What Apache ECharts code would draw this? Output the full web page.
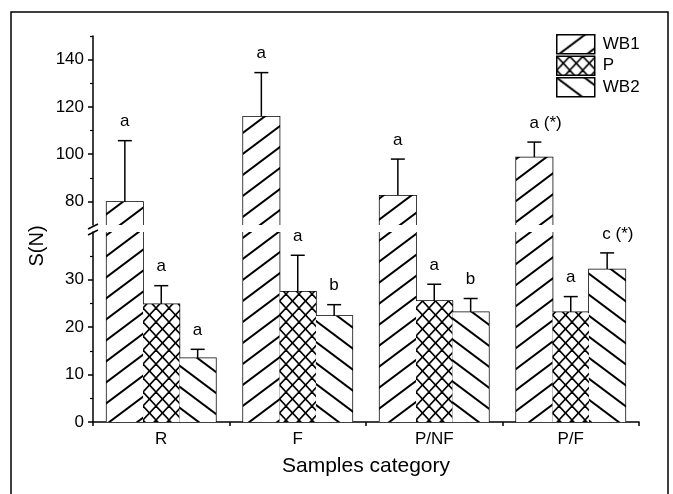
<!DOCTYPE html>
<html>
<head>
<meta charset="utf-8">
<script src="https://cdn.jsdelivr.net/npm/echarts@6/dist/echarts.min.js"></script>
<style>
  html, body { margin: 0; padding: 0; background: #fff; }
  #main { width: 673px; height: 494px; }
</style>
</head>
<body>
<div id="main"></div>
<script>
// data
var categories = ['R', 'F', 'P/NF', 'P/F'];
var seriesNames = ['WB1', 'P', 'WB2'];
var wb1 = [79.7, 115.8, 82.4, 98.6];
var wb1Err = [26.0, 18.7, 15.5, 6.5];
var pVals = [24.8, 27.4, 25.5, 23.1];
var pErr = [3.9, 7.7, 3.5, 3.3];
var wb2 = [13.4, 22.3, 23.1, 32.1];
var wb2Err = [1.9, 2.4, 2.9, 3.5];
var wb1Labels = ['a', 'a', 'a', 'a (*)'];
var pLabels = ['a', 'a', 'a', 'a'];
var wb2Labels = ['a', 'b', 'b', 'c (*)'];
var upperTicks = [80, 100, 120, 140];
var upperMinor = [90, 110, 130, 150];
var lowerTicks = [0, 10, 20, 30];
var lowerMinor = [5, 15, 25, 35];

var FONT = '"Liberation Sans", Arial, sans-serif';

// hatch fill built on a small canvas tile
function hatch(w, h, fwd, back, lw) {
    var c = document.createElement('canvas');
    c.width = w;
    c.height = h;
    var g = c.getContext('2d');
    g.fillStyle = '#fff';
    g.fillRect(0, 0, w, h);
    g.strokeStyle = '#000';
    g.lineWidth = lw;
    for (var k = -1; k <= 1; k++) {
        if (fwd) {
            g.beginPath();
            g.moveTo(-w, 2 * h + k * h);
            g.lineTo(2 * w, -h + k * h);
            g.stroke();
        }
        if (back) {
            g.beginPath();
            g.moveTo(-w, -h + k * h);
            g.lineTo(2 * w, 2 * h + k * h);
            g.stroke();
        }
    }
    return { image: c, repeat: 'repeat' };
}

var fills = [
    hatch(28, 21, true, false, 2),
    hatch(13, 14, true, true, 1.6),
    hatch(28, 21, false, true, 2)
];

function barSeries(idx, values, grid) {
    return {
        name: seriesNames[idx],
        type: 'bar',
        xAxisIndex: grid,
        yAxisIndex: grid * 2,
        data: values,
        barGap: '0%',
        barCategoryGap: '20%',
        clip: true,
        itemStyle: { color: fills[idx], borderWidth: 0 },
        emphasis: { disabled: true }
    };
}

var allBars = [
    { v: wb1, e: wb1Err, t: wb1Labels },
    { v: pVals, e: pErr, t: pLabels },
    { v: wb2, e: wb2Err, t: wb2Labels }
];

function records() {
    var recs = [];
    allBars.forEach(function (d, s) {
        for (var i = 0; i < categories.length; i++) {
            recs.push({ i: i, s: s, v: d.v[i], e: d.e[i], t: d.t[i] });
        }
    });
    return recs;
}

// outlines (open where the axis breaks), error bars and letters
function overlaySeries(grid, lo, hi) {
    var recs = records();
    return {
        type: 'custom',
        xAxisIndex: grid,
        yAxisIndex: grid * 2,
        silent: true,
        clip: false,
        data: recs.map(function (r) { return [r.i, r.v]; }),
        renderItem: function (params, api) {
            var r = recs[params.dataIndex];
            var cs = params.coordSys;
            var band = api.size([1, 0])[0];
            var bw = band * 0.8 / 3;
            var c = api.coord([r.i, lo]);
            var left = c[0] - 1.5 * bw + r.s * bw;
            var right = left + bw;
            var yBase = c[1];
            var kids = [];
            var st = { stroke: '#000', lineWidth: 1.5, fill: null };
            if (r.v <= lo) return { type: 'group', children: [] };
            var clipped = r.v > hi;
            var yTop = clipped ? cs.y : api.coord([r.i, r.v])[1];
            var pts = clipped
                ? [[left, yBase], [left, yTop]]
                : [[left, yBase], [left, yTop], [right, yTop], [right, yBase]];
            kids.push({ type: 'polyline', shape: { points: pts }, style: st });
            if (clipped) {
                kids.push({ type: 'line', shape: { x1: right, y1: yBase, x2: right, y2: yTop }, style: st });
            } else {
                var cx = left + bw / 2;
                var yErr = api.coord([r.i, r.v + r.e])[1];
                kids.push({ type: 'line', shape: { x1: cx, y1: yTop, x2: cx, y2: yErr }, style: st });
                kids.push({ type: 'line', shape: { x1: cx - 7, y1: yErr, x2: cx + 7, y2: yErr }, style: st });
                kids.push({
                    type: 'text', x: cx - 4.8, y: yErr - 19,
                    style: { text: r.t, fill: '#000', font: '17px ' + FONT, align: 'left', verticalAlign: 'middle' }
                });
            }
            return { type: 'group', children: kids };
        }
    };
}

var axisLine = { show: true, lineStyle: { color: '#000', width: 1.5 } };
var tickLabel = { color: '#000', fontSize: 17, fontFamily: FONT, margin: 9 };

var chart = echarts.init(document.getElementById('main'), null, { renderer: 'canvas' });
chart.setOption({
    animation: false,
    backgroundColor: '#fff',
    grid: [
        { left: 93, right: 34, top: 36, height: 189 },
        { left: 93, right: 34, top: 232, height: 190 }
    ],
    legend: {
        data: seriesNames,
        orient: 'vertical',
        left: 556,
        top: 34,
        padding: 0,
        itemWidth: 38,
        itemHeight: 19,
        itemGap: 1,
        icon: 'rect',
        selectedMode: false,
        itemStyle: { borderColor: '#000', borderWidth: 1.5 },
        textStyle: { color: '#000', fontSize: 17, fontFamily: FONT, padding: [0, 0, 0, 3] }
    },
    xAxis: [
        { type: 'category', gridIndex: 0, data: categories, show: false },
        {
            type: 'category', gridIndex: 1, data: categories,
            axisLine: axisLine,
            axisTick: { show: true, length: 4, lineStyle: { color: '#000', width: 1.5 } },
            axisLabel: { color: '#000', fontSize: 17, fontFamily: FONT, margin: 9 },
            name: 'Samples category',
            nameLocation: 'middle',
            nameGap: 34,
            nameTextStyle: { color: '#000', fontSize: 21, fontFamily: FONT }
        }
    ],
    yAxis: [
        {
            type: 'value', gridIndex: 0, min: 70, max: 150, position: 'left',
            axisLine: axisLine, splitLine: { show: false },
            axisTick: { show: true, length: 5, customValues: upperTicks, lineStyle: { color: '#000', width: 1.5 } },
            axisLabel: Object.assign({ customValues: upperTicks }, tickLabel)
        },
        {
            type: 'value', gridIndex: 0, min: 70, max: 150, position: 'left',
            axisLine: { show: false }, splitLine: { show: false }, axisLabel: { show: false },
            axisTick: { show: true, length: 3, customValues: upperMinor, lineStyle: { color: '#000', width: 1.2 } }
        },
        {
            type: 'value', gridIndex: 1, min: 0, max: 40, position: 'left',
            axisLine: axisLine, splitLine: { show: false },
            axisTick: { show: true, length: 5, customValues: lowerTicks, lineStyle: { color: '#000', width: 1.5 } },
            axisLabel: Object.assign({ customValues: lowerTicks }, tickLabel)
        },
        {
            type: 'value', gridIndex: 1, min: 0, max: 40, position: 'left',
            axisLine: { show: false }, splitLine: { show: false }, axisLabel: { show: false },
            axisTick: { show: true, length: 3, customValues: lowerMinor, lineStyle: { color: '#000', width: 1.2 } }
        }
    ],
    graphic: [
        // frame around the figure
        { type: 'rect', shape: { x: 11, y: 12, width: 657, height: 500 }, style: { fill: 'none', stroke: '#000', lineWidth: 1.5 }, silent: true },
        // axis break marks
        { type: 'line', shape: { x1: 88, y1: 229, x2: 98, y2: 224 }, style: { stroke: '#000', lineWidth: 1.5 } },
        { type: 'line', shape: { x1: 88, y1: 235, x2: 98, y2: 230 }, style: { stroke: '#000', lineWidth: 1.5 } },
        {
            type: 'text', x: 37, y: 246, rotation: Math.PI / 2,
            style: { text: 'S(N)', fill: '#000', font: '20px ' + FONT, align: 'center', verticalAlign: 'middle' }
        }
    ],
    series: [
        barSeries(0, wb1, 0),
        barSeries(1, pVals, 0),
        barSeries(2, wb2, 0),
        barSeries(0, wb1, 1),
        barSeries(1, pVals, 1),
        barSeries(2, wb2, 1),
        overlaySeries(0, 70, 150),
        overlaySeries(1, 0, 40)
    ]
});
</script>
</body>
</html>
